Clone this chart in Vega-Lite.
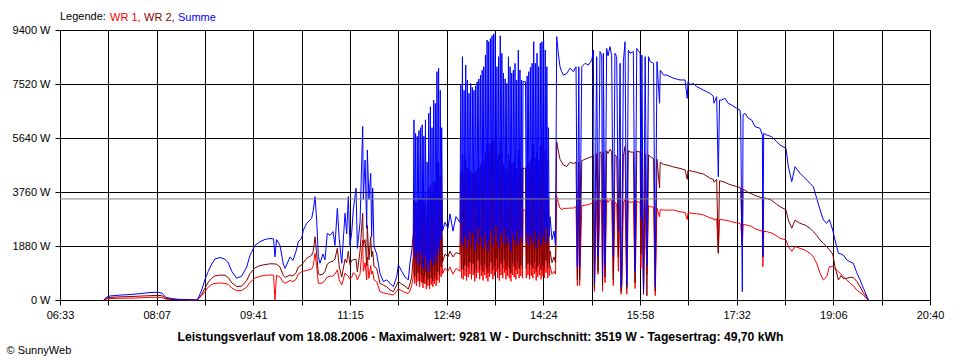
{
  "$schema": "https://vega.github.io/schema/vega-lite/v6.json",
  "width": 870,
  "height": 270,
  "autosize": {"type": "none"},
  "padding": {"left": 60, "top": 30, "right": 30, "bottom": 60},
  "background": "white",
  "data": {"values": [
    {"t":435.8,"wr1":0,"wr2":0,"sum":0},
    {"t":437.8,"wr1":30,"wr2":60,"sum":90},
    {"t":441.7,"wr1":50,"wr2":90,"sum":140},
    {"t":451.4,"wr1":60,"wr2":110,"sum":170},
    {"t":461.1,"wr1":65,"wr2":120,"sum":190},
    {"t":470.9,"wr1":75,"wr2":135,"sum":220},
    {"t":480.6,"wr1":90,"wr2":150,"sum":260},
    {"t":488.4,"wr1":95,"wr2":160,"sum":270},
    {"t":492.3,"wr1":85,"wr2":150,"sum":240},
    {"t":496.2,"wr1":30,"wr2":60,"sum":90},
    {"t":502.0,"wr1":15,"wr2":30,"sum":45},
    {"t":509.8,"wr1":5,"wr2":10,"sum":20},
    {"t":519.6,"wr1":0,"wr2":0,"sum":10},
    {"t":526.4,"wr1":0,"wr2":0,"sum":0},
    {"t":527.6,"wr1":30,"wr2":40,"sum":70},
    {"t":531.0,"wr1":150,"wr2":200,"sum":350},
    {"t":534.2,"wr1":300,"wr2":420,"sum":720},
    {"t":537.4,"wr1":450,"wr2":620,"sum":1000},
    {"t":540.7,"wr1":540,"wr2":760,"sum":1250},
    {"t":543.9,"wr1":580,"wr2":840,"sum":1430},
    {"t":548.8,"wr1":590,"wr2":870,"sum":1480},
    {"t":553.6,"wr1":580,"wr2":860,"sum":1420},
    {"t":556.9,"wr1":540,"wr2":780,"sum":1290},
    {"t":560.2,"wr1":420,"wr2":600,"sum":1000},
    {"t":565.0,"wr1":320,"wr2":470,"sum":760},
    {"t":569.9,"wr1":330,"wr2":480,"sum":830},
    {"t":574.8,"wr1":450,"wr2":680,"sum":1150},
    {"t":578.0,"wr1":620,"wr2":920,"sum":1560},
    {"t":582.8,"wr1":760,"wr2":1120,"sum":1900},
    {"t":587.7,"wr1":830,"wr2":1200,"sum":2030},
    {"t":592.6,"wr1":860,"wr2":1230,"sum":2110},
    {"t":597.4,"wr1":870,"wr2":1260,"sum":2140},
    {"t":600.9,"wr1":870,"wr2":1260,"sum":2130},
    {"t":602.3,"wr1":0,"wr2":1250,"sum":1500},
    {"t":603.8,"wr1":860,"wr2":1250,"sum":2100},
    {"t":607.2,"wr1":800,"wr2":1150,"sum":1900},
    {"t":610.4,"wr1":620,"wr2":850,"sum":1250},
    {"t":612.1,"wr1":580,"wr2":790,"sum":1100},
    {"t":617.0,"wr1":680,"wr2":870,"sum":1500},
    {"t":619.8,"wr1":640,"wr2":840,"sum":1380},
    {"t":622.8,"wr1":720,"wr2":950,"sum":1700},
    {"t":625.0,"wr1":900,"wr2":1150,"sum":2030},
    {"t":628.3,"wr1":990,"wr2":1220,"sum":2150},
    {"t":629.9,"wr1":1000,"wr2":1300,"sum":2430},
    {"t":633.2,"wr1":1030,"wr2":1450,"sum":2670},
    {"t":638.0,"wr1":1080,"wr2":1560,"sum":2840},
    {"t":639.6,"wr1":1200,"wr2":1700,"sum":3130},
    {"t":641.3,"wr1":1620,"wr2":2200,"sum":3600},
    {"t":642.9,"wr1":1200,"wr2":1600,"sum":2780},
    {"t":644.5,"wr1":580,"wr2":930,"sum":1510},
    {"t":646.1,"wr1":580,"wr2":870,"sum":1280},
    {"t":649.0,"wr1":600,"wr2":900,"sum":1600},
    {"t":651.0,"wr1":690,"wr2":1000,"sum":1400},
    {"t":653.2,"wr1":800,"wr2":1250,"sum":2320},
    {"t":655.9,"wr1":830,"wr2":1320,"sum":2250},
    {"t":658.8,"wr1":830,"wr2":1350,"sum":2380},
    {"t":660.7,"wr1":900,"wr2":1430,"sum":1900},
    {"t":663.0,"wr1":1050,"wr2":1800,"sum":3190},
    {"t":664.9,"wr1":700,"wr2":1150,"sum":2100},
    {"t":667.3,"wr1":520,"wr2":800,"sum":1280},
    {"t":670.5,"wr1":940,"wr2":1420,"sum":3020},
    {"t":672.1,"wr1":870,"wr2":1300,"sum":2300},
    {"t":673.7,"wr1":830,"wr2":1700,"sum":3600},
    {"t":675.3,"wr1":730,"wr2":1230,"sum":1900},
    {"t":677.0,"wr1":780,"wr2":1380,"sum":2350},
    {"t":678.5,"wr1":950,"wr2":1400,"sum":3130},
    {"t":681.2,"wr1":870,"wr2":1420,"sum":3890},
    {"t":682.5,"wr1":700,"wr2":980,"sum":1800},
    {"t":685.1,"wr1":900,"wr2":1700,"sum":2700},
    {"t":687.7,"wr1":2090,"wr2":3020,"sum":6040},
    {"t":688.3,"wr1":1000,"wr2":1900,"sum":3500},
    {"t":690.0,"wr1":1300,"wr2":2100,"sum":4870},
    {"t":691.6,"wr1":700,"wr2":1200,"sum":2500},
    {"t":692.2,"wr1":1500,"wr2":2600,"sum":5220},
    {"t":693.8,"wr1":750,"wr2":1400,"sum":3500},
    {"t":695.5,"wr1":1200,"wr2":2200,"sum":4410},
    {"t":696.4,"wr1":900,"wr2":1500,"sum":2200},
    {"t":697.4,"wr1":1000,"wr2":1700,"sum":3900},
    {"t":698.7,"wr1":700,"wr2":1160,"sum":1860},
    {"t":701.3,"wr1":640,"wr2":1100,"sum":1600},
    {"t":704.5,"wr1":290,"wr2":580,"sum":930},
    {"t":707.8,"wr1":250,"wr2":520,"sum":640},
    {"t":711.1,"wr1":220,"wr2":460,"sum":700},
    {"t":714.3,"wr1":200,"wr2":350,"sum":580},
    {"t":717.5,"wr1":170,"wr2":290,"sum":464},
    {"t":720.8,"wr1":300,"wr2":520,"sum":810},
    {"t":722.4,"wr1":380,"wr2":640,"sum":1220},
    {"t":725.7,"wr1":330,"wr2":550,"sum":1000},
    {"t":728.9,"wr1":260,"wr2":480,"sum":800},
    {"t":732.1,"wr1":230,"wr2":380,"sum":700},
    {"t":733.7,"wr1":320,"wr2":560,"sum":1280},
    {"t":735.4,"wr1":500,"wr2":800,"sum":1700},
    {"t":736.9,"wr1":800,"wr2":1500,"sum":2330},
    {"t":737.6,"wr1":2200,"wr2":3500,"sum":6270},
    {"t":738.4,"wr1":570,"wr2":830,"sum":1500},
    {"t":739.2,"wr1":2250,"wr2":3400,"sum":5800},
    {"t":740.0,"wr1":490,"wr2":720,"sum":1300},
    {"t":740.8,"wr1":2300,"wr2":3400,"sum":5700},
    {"t":741.6,"wr1":650,"wr2":940,"sum":1700},
    {"t":742.4,"wr1":2350,"wr2":3500,"sum":5900},
    {"t":743.2,"wr1":460,"wr2":660,"sum":1200},
    {"t":744.0,"wr1":2400,"wr2":3550,"sum":6000},
    {"t":744.8,"wr1":610,"wr2":880,"sum":1600},
    {"t":745.6,"wr1":2400,"wr2":3600,"sum":6100},
    {"t":746.4,"wr1":420,"wr2":600,"sum":1100},
    {"t":747.2,"wr1":2300,"wr2":3400,"sum":5700},
    {"t":748.0,"wr1":570,"wr2":830,"sum":1500},
    {"t":748.8,"wr1":2400,"wr2":3700,"sum":6270},
    {"t":749.6,"wr1":380,"wr2":550,"sum":1000},
    {"t":750.4,"wr1":1800,"wr2":2900,"sum":4800},
    {"t":751.2,"wr1":490,"wr2":720,"sum":1300},
    {"t":752.0,"wr1":2500,"wr2":3900,"sum":6500},
    {"t":752.8,"wr1":380,"wr2":550,"sum":1000},
    {"t":753.6,"wr1":2550,"wr2":4000,"sum":6730},
    {"t":754.4,"wr1":530,"wr2":770,"sum":1400},
    {"t":755.2,"wr1":2300,"wr2":3600,"sum":6000},
    {"t":756.0,"wr1":460,"wr2":660,"sum":1200},
    {"t":756.8,"wr1":2650,"wr2":4150,"sum":6960},
    {"t":757.6,"wr1":570,"wr2":830,"sum":1500},
    {"t":758.4,"wr1":2600,"wr2":4100,"sum":6840},
    {"t":759.2,"wr1":490,"wr2":720,"sum":1300},
    {"t":760.0,"wr1":3000,"wr2":4750,"sum":7950},
    {"t":760.8,"wr1":680,"wr2":990,"sum":1800},
    {"t":761.6,"wr1":3050,"wr2":4800,"sum":8070},
    {"t":762.4,"wr1":610,"wr2":880,"sum":1600},
    {"t":763.2,"wr1":2800,"wr2":4350,"sum":7300},
    {"t":764.0,"wr1":800,"wr2":1160,"sum":2100},
    {"t":764.6,"wr1":2300,"wr2":3600,"sum":6000},
    {"t":765.4,"wr1":910,"wr2":1320,"sum":2400},
    {"t":767.8,"wr1":1100,"wr2":1600,"sum":2700},
    {"t":770.7,"wr1":1000,"wr2":1500,"sum":2500},
    {"t":772.7,"wr1":1150,"wr2":1700,"sum":3000},
    {"t":775.6,"wr1":900,"wr2":1500,"sum":2400},
    {"t":778.5,"wr1":1100,"wr2":1650,"sum":2900},
    {"t":782.4,"wr1":1000,"wr2":1600,"sum":2700},
    {"t":783.2,"wr1":2920,"wr2":4490,"sum":7480},
    {"t":784.0,"wr1":760,"wr2":1100,"sum":2000},
    {"t":784.8,"wr1":3300,"wr2":5080,"sum":8470},
    {"t":785.6,"wr1":720,"wr2":1050,"sum":1900},
    {"t":786.4,"wr1":2850,"wr2":4380,"sum":7300},
    {"t":787.2,"wr1":840,"wr2":1210,"sum":2200},
    {"t":788.0,"wr1":3190,"wr2":4910,"sum":8180},
    {"t":788.8,"wr1":680,"wr2":990,"sum":1800},
    {"t":789.6,"wr1":2990,"wr2":4600,"sum":7660},
    {"t":790.4,"wr1":800,"wr2":1160,"sum":2100},
    {"t":791.2,"wr1":2810,"wr2":4320,"sum":7200},
    {"t":792.0,"wr1":910,"wr2":1320,"sum":2400},
    {"t":792.8,"wr1":2940,"wr2":4520,"sum":7540},
    {"t":793.6,"wr1":720,"wr2":1050,"sum":1900},
    {"t":794.4,"wr1":2890,"wr2":4440,"sum":7400},
    {"t":795.2,"wr1":870,"wr2":1270,"sum":2300},
    {"t":796.0,"wr1":2850,"wr2":4380,"sum":7300},
    {"t":796.8,"wr1":650,"wr2":940,"sum":1700},
    {"t":797.6,"wr1":2910,"wr2":4470,"sum":7450},
    {"t":798.4,"wr1":760,"wr2":1100,"sum":2000},
    {"t":799.2,"wr1":2960,"wr2":4560,"sum":7600},
    {"t":800.0,"wr1":950,"wr2":1380,"sum":2500},
    {"t":800.8,"wr1":3000,"wr2":4620,"sum":7700},
    {"t":801.6,"wr1":720,"wr2":1050,"sum":1900},
    {"t":802.4,"wr1":3050,"wr2":4700,"sum":7833},
    {"t":803.2,"wr1":840,"wr2":1210,"sum":2200},
    {"t":804.0,"wr1":3120,"wr2":4800,"sum":8000},
    {"t":804.8,"wr1":680,"wr2":990,"sum":1800},
    {"t":805.6,"wr1":3170,"wr2":4870,"sum":8124},
    {"t":806.4,"wr1":870,"wr2":1270,"sum":2300},
    {"t":807.2,"wr1":3330,"wr2":5120,"sum":8530},
    {"t":808.0,"wr1":760,"wr2":1100,"sum":2000},
    {"t":808.8,"wr1":3530,"wr2":5430,"sum":9052},
    {"t":809.6,"wr1":650,"wr2":940,"sum":1700},
    {"t":810.4,"wr1":3510,"wr2":5400,"sum":8994},
    {"t":811.2,"wr1":800,"wr2":1160,"sum":2100},
    {"t":812.0,"wr1":3550,"wr2":5460,"sum":9100},
    {"t":812.8,"wr1":910,"wr2":1320,"sum":2400},
    {"t":813.6,"wr1":3590,"wr2":5520,"sum":9200},
    {"t":814.4,"wr1":720,"wr2":1050,"sum":1900},
    {"t":815.2,"wr1":3610,"wr2":5560,"sum":9261},
    {"t":816.0,"wr1":840,"wr2":1210,"sum":2200},
    {"t":816.8,"wr1":3620,"wr2":5570,"sum":9281},
    {"t":817.6,"wr1":990,"wr2":1430,"sum":2600},
    {"t":818.4,"wr1":3170,"wr2":4870,"sum":8124},
    {"t":819.2,"wr1":760,"wr2":1100,"sum":2000},
    {"t":820.0,"wr1":3300,"wr2":5080,"sum":8470},
    {"t":820.8,"wr1":680,"wr2":990,"sum":1800},
    {"t":821.6,"wr1":3590,"wr2":5520,"sum":9200},
    {"t":822.4,"wr1":870,"wr2":1270,"sum":2300},
    {"t":823.2,"wr1":3350,"wr2":5150,"sum":8590},
    {"t":824.0,"wr1":760,"wr2":1100,"sum":2000},
    {"t":824.8,"wr1":3080,"wr2":4740,"sum":7900},
    {"t":825.6,"wr1":950,"wr2":1380,"sum":2500},
    {"t":826.4,"wr1":3000,"wr2":4620,"sum":7700},
    {"t":827.2,"wr1":720,"wr2":1050,"sum":1900},
    {"t":828.0,"wr1":2940,"wr2":4520,"sum":7540},
    {"t":828.8,"wr1":840,"wr2":1210,"sum":2200},
    {"t":829.6,"wr1":3300,"wr2":5080,"sum":8470},
    {"t":830.4,"wr1":760,"wr2":1100,"sum":2000},
    {"t":831.2,"wr1":3170,"wr2":4870,"sum":8124},
    {"t":832.0,"wr1":650,"wr2":940,"sum":1700},
    {"t":832.8,"wr1":3080,"wr2":4740,"sum":7900},
    {"t":833.6,"wr1":870,"wr2":1270,"sum":2300},
    {"t":834.4,"wr1":3120,"wr2":4800,"sum":8000},
    {"t":835.2,"wr1":800,"wr2":1160,"sum":2100},
    {"t":836.0,"wr1":3210,"wr2":4940,"sum":8240},
    {"t":836.8,"wr1":720,"wr2":1050,"sum":1900},
    {"t":837.6,"wr1":2990,"wr2":4600,"sum":7660},
    {"t":838.4,"wr1":910,"wr2":1320,"sum":2400},
    {"t":839.2,"wr1":3390,"wr2":5220,"sum":8700},
    {"t":840.0,"wr1":760,"wr2":1100,"sum":2000},
    {"t":840.8,"wr1":3120,"wr2":4810,"sum":8010},
    {"t":841.6,"wr1":840,"wr2":1210,"sum":2200},
    {"t":842.4,"wr1":2990,"wr2":4600,"sum":7660},
    {"t":843.2,"wr1":760,"wr2":1100,"sum":2000},
    {"t":843.8,"wr1":3133,"wr2":4584,"sum":7600},
    {"t":846.2,"wr1":3133,"wr2":4584,"sum":7600},
    {"t":847.0,"wr1":760,"wr2":1100,"sum":2000},
    {"t":847.8,"wr1":3040,"wr2":4680,"sum":7800},
    {"t":848.6,"wr1":870,"wr2":1270,"sum":2300},
    {"t":849.4,"wr1":3100,"wr2":4770,"sum":7950},
    {"t":850.2,"wr1":720,"wr2":1050,"sum":1900},
    {"t":851.0,"wr1":3160,"wr2":4860,"sum":8100},
    {"t":851.8,"wr1":840,"wr2":1210,"sum":2200},
    {"t":852.6,"wr1":3210,"wr2":4940,"sum":8240},
    {"t":853.4,"wr1":760,"wr2":1100,"sum":2000},
    {"t":854.2,"wr1":3510,"wr2":5400,"sum":8994},
    {"t":855.0,"wr1":910,"wr2":1320,"sum":2400},
    {"t":855.8,"wr1":3210,"wr2":4940,"sum":8240},
    {"t":856.6,"wr1":680,"wr2":990,"sum":1800},
    {"t":857.4,"wr1":3350,"wr2":5150,"sum":8590},
    {"t":858.2,"wr1":800,"wr2":1160,"sum":2100},
    {"t":859.0,"wr1":3170,"wr2":4870,"sum":8124},
    {"t":859.8,"wr1":870,"wr2":1270,"sum":2300},
    {"t":860.6,"wr1":3490,"wr2":5360,"sum":8940},
    {"t":861.4,"wr1":720,"wr2":1050,"sum":1900},
    {"t":862.2,"wr1":3510,"wr2":5400,"sum":8994},
    {"t":863.0,"wr1":840,"wr2":1210,"sum":2200},
    {"t":863.8,"wr1":3530,"wr2":5430,"sum":9052},
    {"t":864.6,"wr1":760,"wr2":1100,"sum":2000},
    {"t":865.4,"wr1":3390,"wr2":5220,"sum":8700},
    {"t":866.2,"wr1":950,"wr2":1380,"sum":2500},
    {"t":867.0,"wr1":3170,"wr2":4870,"sum":8124},
    {"t":867.8,"wr1":760,"wr2":1100,"sum":2000},
    {"t":868.5,"wr1":2340,"wr2":3600,"sum":6000},
    {"t":869.4,"wr1":840,"wr2":1210,"sum":2200},
    {"t":870.1,"wr1":1200,"wr2":1700,"sum":2900},
    {"t":872.0,"wr1":900,"wr2":1300,"sum":2100},
    {"t":874.0,"wr1":1000,"wr2":1500,"sum":2400},
    {"t":875.4,"wr1":900,"wr2":1300,"sum":1900},
    {"t":876.6,"wr1":3600,"wr2":5500,"sum":9170},
    {"t":878.1,"wr1":3400,"wr2":5200,"sum":8590},
    {"t":879.8,"wr1":3200,"wr2":4900,"sum":8120},
    {"t":881.4,"wr1":3150,"wr2":4800,"sum":7950},
    {"t":883.1,"wr1":3190,"wr2":4700,"sum":7830},
    {"t":886.4,"wr1":3190,"wr2":4650,"sum":7890},
    {"t":889.6,"wr1":3200,"wr2":4800,"sum":8070},
    {"t":892.8,"wr1":3200,"wr2":4750,"sum":7950},
    {"t":895.4,"wr1":3250,"wr2":4800,"sum":8120},
    {"t":896.7,"wr1":500,"wr2":700,"sum":1160},
    {"t":898.1,"wr1":3250,"wr2":4800,"sum":8120},
    {"t":898.9,"wr1":500,"wr2":700,"sum":1160},
    {"t":901.0,"wr1":3280,"wr2":4850,"sum":8120},
    {"t":904.2,"wr1":3300,"wr2":4900,"sum":8240},
    {"t":907.4,"wr1":3320,"wr2":4950,"sum":8180},
    {"t":910.8,"wr1":3370,"wr2":4990,"sum":8360},
    {"t":912.3,"wr1":3400,"wr2":5050,"sum":8700},
    {"t":913.3,"wr1":300,"wr2":400,"sum":580},
    {"t":915.5,"wr1":3450,"wr2":5100,"sum":8470},
    {"t":916.8,"wr1":900,"wr2":1000,"sum":1500},
    {"t":918.7,"wr1":3480,"wr2":5160,"sum":8650},
    {"t":920.4,"wr1":3400,"wr2":5100,"sum":8500},
    {"t":921.2,"wr1":300,"wr2":500,"sum":800},
    {"t":922.0,"wr1":3480,"wr2":5160,"sum":8590},
    {"t":923.6,"wr1":600,"wr2":800,"sum":1200},
    {"t":925.2,"wr1":3500,"wr2":5200,"sum":8760},
    {"t":926.5,"wr1":3400,"wr2":5100,"sum":8500},
    {"t":928.5,"wr1":3500,"wr2":5250,"sum":8820},
    {"t":930.1,"wr1":3450,"wr2":5150,"sum":8500},
    {"t":931.7,"wr1":500,"wr2":700,"sum":1500},
    {"t":933.3,"wr1":3400,"wr2":5050,"sum":8590},
    {"t":935.0,"wr1":3350,"wr2":5000,"sum":8470},
    {"t":936.6,"wr1":1000,"wr2":1500,"sum":2400},
    {"t":938.3,"wr1":3300,"wr2":4900,"sum":8240},
    {"t":939.2,"wr1":200,"wr2":300,"sum":460},
    {"t":939.9,"wr1":400,"wr2":600,"sum":900},
    {"t":941.5,"wr1":3380,"wr2":5000,"sum":8300},
    {"t":943.1,"wr1":3500,"wr2":5350,"sum":8990},
    {"t":944.8,"wr1":200,"wr2":400,"sum":500},
    {"t":946.3,"wr1":3450,"wr2":5200,"sum":8700},
    {"t":948.0,"wr1":3400,"wr2":5150,"sum":8590},
    {"t":951.2,"wr1":3420,"wr2":5150,"sum":8650},
    {"t":952.9,"wr1":400,"wr2":600,"sum":1000},
    {"t":954.5,"wr1":3430,"wr2":5180,"sum":8760},
    {"t":957.8,"wr1":3400,"wr2":5150,"sum":8590},
    {"t":958.6,"wr1":1100,"wr2":1600,"sum":2800},
    {"t":959.5,"wr1":3380,"wr2":5120,"sum":8530},
    {"t":961.1,"wr1":200,"wr2":200,"sum":300},
    {"t":962.7,"wr1":3300,"wr2":5080,"sum":8470},
    {"t":964.4,"wr1":900,"wr2":150,"sum":1200},
    {"t":966.0,"wr1":3280,"wr2":5050,"sum":8470},
    {"t":967.6,"wr1":3250,"wr2":5000,"sum":8300},
    {"t":970.9,"wr1":3230,"wr2":4920,"sum":8240},
    {"t":972.5,"wr1":150,"wr2":300,"sum":464},
    {"t":974.2,"wr1":3200,"wr2":4900,"sum":8300},
    {"t":976.7,"wr1":2900,"wr2":3900,"sum":6850},
    {"t":977.4,"wr1":3150,"wr2":4800,"sum":8000},
    {"t":980.6,"wr1":3130,"wr2":4720,"sum":7830},
    {"t":983.9,"wr1":3130,"wr2":4700,"sum":7830},
    {"t":990.4,"wr1":3133,"wr2":4630,"sum":7720},
    {"t":996.6,"wr1":3070,"wr2":4580,"sum":7660},
    {"t":1001.5,"wr1":3050,"wr2":4530,"sum":7660},
    {"t":1003.7,"wr1":2800,"wr2":4200,"sum":7020},
    {"t":1004.4,"wr1":3040,"wr2":4520,"sum":7600},
    {"t":1006.4,"wr1":3030,"wr2":4500,"sum":7490},
    {"t":1009.6,"wr1":3010,"wr2":4470,"sum":7540},
    {"t":1012.9,"wr1":3000,"wr2":4450,"sum":7430},
    {"t":1016.1,"wr1":2990,"wr2":4410,"sum":7370},
    {"t":1019.3,"wr1":2960,"wr2":4390,"sum":7311},
    {"t":1025.8,"wr1":2860,"wr2":4240,"sum":7196},
    {"t":1029.0,"wr1":2840,"wr2":4200,"sum":7100},
    {"t":1029.7,"wr1":2780,"wr2":4100,"sum":6850},
    {"t":1032.3,"wr1":2830,"wr2":4200,"sum":7079},
    {"t":1033.9,"wr1":1680,"wr2":1620,"sum":4290},
    {"t":1035.1,"wr1":2800,"wr2":4150,"sum":6960},
    {"t":1037.2,"wr1":2800,"wr2":4130,"sum":6963},
    {"t":1040.4,"wr1":2780,"wr2":4100,"sum":7021},
    {"t":1043.6,"wr1":2760,"wr2":4040,"sum":6847},
    {"t":1046.9,"wr1":2720,"wr2":4000,"sum":6789},
    {"t":1051.8,"wr1":2690,"wr2":3950,"sum":6673},
    {"t":1055.0,"wr1":2670,"wr2":3920,"sum":6615},
    {"t":1055.7,"wr1":2640,"wr2":3850,"sum":6325},
    {"t":1057.3,"wr1":1900,"wr2":1900,"sum":290},
    {"t":1058.0,"wr1":2630,"wr2":3850,"sum":6450},
    {"t":1059.9,"wr1":2620,"wr2":3820,"sum":6500},
    {"t":1063.2,"wr1":2590,"wr2":3740,"sum":6325},
    {"t":1066.4,"wr1":2560,"wr2":3700,"sum":6267},
    {"t":1069.7,"wr1":2480,"wr2":3640,"sum":6035},
    {"t":1074.5,"wr1":2420,"wr2":3580,"sum":5977},
    {"t":1076.8,"wr1":2400,"wr2":3560,"sum":5744},
    {"t":1077.3,"wr1":1160,"wr2":1500,"sum":1508},
    {"t":1078.1,"wr1":2390,"wr2":3550,"sum":5800},
    {"t":1081.0,"wr1":2380,"wr2":3540,"sum":5744},
    {"t":1085.9,"wr1":2330,"wr2":3470,"sum":5686},
    {"t":1090.8,"wr1":2230,"wr2":3330,"sum":5512},
    {"t":1094.0,"wr1":2150,"wr2":3250,"sum":5396},
    {"t":1099.8,"wr1":2090,"wr2":3133,"sum":5280},
    {"t":1102.1,"wr1":1860,"wr2":2780,"sum":4642},
    {"t":1105.4,"wr1":1690,"wr2":2500,"sum":4120},
    {"t":1108.6,"wr1":1860,"wr2":2780,"sum":4642},
    {"t":1113.5,"wr1":1800,"wr2":2669,"sum":4410},
    {"t":1118.3,"wr1":1740,"wr2":2611,"sum":4236},
    {"t":1123.2,"wr1":1625,"wr2":2495,"sum":4062},
    {"t":1126.4,"wr1":1508,"wr2":2380,"sum":3945},
    {"t":1129.7,"wr1":1276,"wr2":2250,"sum":3540},
    {"t":1133.0,"wr1":928,"wr2":2089,"sum":3133},
    {"t":1136.2,"wr1":696,"wr2":1970,"sum":2785},
    {"t":1139.5,"wr1":812,"wr2":1857,"sum":2669},
    {"t":1142.0,"wr1":1160,"wr2":1750,"sum":2800},
    {"t":1145.3,"wr1":1160,"wr2":1600,"sum":2437},
    {"t":1147.5,"wr1":1100,"wr2":1160,"sum":2089},
    {"t":1150.8,"wr1":986,"wr2":696,"sum":1625},
    {"t":1153.4,"wr1":900,"wr2":850,"sum":1600},
    {"t":1155.6,"wr1":812,"wr2":750,"sum":1567},
    {"t":1159.0,"wr1":700,"wr2":754,"sum":1393},
    {"t":1162.2,"wr1":580,"wr2":790,"sum":1330},
    {"t":1165.4,"wr1":500,"wr2":780,"sum":1276},
    {"t":1168.7,"wr1":348,"wr2":650,"sum":950},
    {"t":1171.9,"wr1":260,"wr2":464,"sum":700},
    {"t":1175.2,"wr1":174,"wr2":250,"sum":406},
    {"t":1176.8,"wr1":100,"wr2":174,"sum":280},
    {"t":1180.0,"wr1":0,"wr2":0,"sum":0}
  ]},
  "layer": [
    {
      "transform": [{"fold": ["wr1", "wr2", "sum"], "as": ["series", "watt"]}],
      "encoding": {
        "x": {"field": "t", "type": "quantitative",
          "scale": {"domain": [393, 1240], "nice": false, "zero": false},
          "axis": {
            "values": [393, 440.0556, 487.1111, 534.1667, 581.2222, 628.2778, 675.3333, 722.3889, 769.4444, 816.5, 863.5556, 910.6111, 957.6667, 1004.7222, 1051.7778, 1098.8333, 1145.8889, 1192.9444, 1240],
            "labelExpr": "round((datum.value-393)/47.0556) % 2 == 0 ? slice('0' + floor(round(datum.value)/60), -2) + ':' + slice('0' + round(datum.value) % 60, -2) : ''"
          },
          "title": "Leistungsverlauf vom 18.08.2006 - Maximalwert: 9281 W - Durchschnitt: 3519 W - Tagesertrag: 49,70 kWh"
        },
        "y": {"field": "watt", "type": "quantitative",
          "scale": {"domain": [0, 9400], "nice": false},
          "axis": {"values": [0, 1880, 3760, 5640, 7520, 9400], "labelExpr": "datum.value + ' W'"},
          "title": "© SunnyWeb"
        }
      },
      "layer": [
        {
          "transform": [{"filter": "datum.series == 'wr1'"}],
          "mark": {"type": "line", "strokeWidth": 1, "interpolate": "linear"},
          "encoding": {"color": {"datum": "WR 1", "type": "nominal",
            "scale": {"domain": ["WR 1", "WR 2", "Summe"], "range": ["#ff0000", "#800000", "#0000ff"]},
            "legend": {
              "orient": "none", "legendX": 0, "legendY": -18, "direction": "horizontal",
              "title": "Legende:", "titleOrient": "left", "titleFont": "Liberation Sans", "titleFontSize": 11,
              "titleFontWeight": "normal", "titleColor": "#000000", "titlePadding": 4,
              "labelFont": "Liberation Sans", "labelFontSize": 11,
              "labelExpr": "datum.label == 'Summe' ? datum.label : datum.label + ','",
              "symbolType": "circle", "symbolSize": 0.0001, "symbolStrokeWidth": 0.0001, "symbolOpacity": 0, "labelOffset": -11,
              "columnPadding": 3, "padding": 0, "gridAlign": "none",
              "encode": {"labels": {"update": {"fill": {"scale": "color", "field": "value"}}}}
            }}}
        },
        {
          "transform": [{"filter": "datum.series == 'wr2'"}],
          "mark": {"type": "line", "strokeWidth": 1, "interpolate": "linear"},
          "encoding": {"color": {"datum": "WR 2", "type": "nominal"}}
        },
        {
          "transform": [{"filter": "datum.series == 'sum'"}],
          "mark": {"type": "line", "strokeWidth": 1, "interpolate": "linear"},
          "encoding": {"color": {"datum": "Summe", "type": "nominal"}}
        }
      ]
    },
    {
      "data": {"values": [{"avg": 3519}]},
      "mark": {"type": "rule", "color": "#808080", "strokeWidth": 1},
      "encoding": {"y": {"field": "avg", "type": "quantitative", "title": "© SunnyWeb"}}
    }
  ],
  "config": {
    "view": {"stroke": null},
    "axis": {
      "grid": true, "gridColor": "#000000", "gridOpacity": 1, "gridWidth": 1,
      "domainColor": "#000000", "domainWidth": 1, "tickColor": "#000000", "tickSize": 5, "tickWidth": 1,
      "labelFont": "Liberation Sans", "labelFontSize": 11, "labelColor": "#000000",
      "labelFlush": false, "labelOverlap": false, "labelBound": false, "zindex": 1,
      "titleFont": "Liberation Sans", "titleColor": "#000000"
    },
    "axisX": {"labelPadding": 4, "titleX": 420, "titleY": 40, "titleAlign": "center", "titleBaseline": "alphabetic",
      "titleFontSize": 12.2, "titleFontWeight": "bold", "titleAnchor": null},
    "axisY": {"labelPadding": 5, "titleAngle": 0, "titleX": -54, "titleY": 323, "titleAlign": "left",
      "titleBaseline": "alphabetic", "titleFontSize": 11, "titleFontWeight": "normal"}
  }
}
